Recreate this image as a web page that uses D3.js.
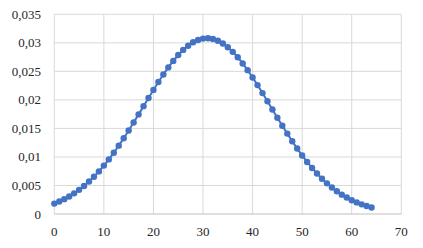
<!DOCTYPE html>
<html>
<head>
<meta charset="UTF-8">
<title>Chart</title>
<script src="https://cdn.jsdelivr.net/npm/d3@7/dist/d3.min.js"></script>
<style>
	body { margin: 0; background: #fff; }
	text { font-family: "Liberation Serif", "Times New Roman", serif; font-size: 13px; fill: #262626; }
</style>
</head>
<body>
<svg id="chart" width="423" height="248"></svg>
<script>
	// values, x = 0..64
	var xs = d3.range(0, 65);
	var ys = [0.00182, 0.00218, 0.00260, 0.00307, 0.00362, 0.00423, 0.00492, 0.00569, 0.00654, 0.00747,
		0.00848, 0.00957, 0.01074, 0.01198, 0.01328, 0.01463, 0.01603, 0.01746, 0.01890, 0.02034,
		0.02175, 0.02313, 0.02445, 0.02569, 0.02683, 0.02786, 0.02876, 0.02950, 0.03009, 0.03050,
		0.03074, 0.03080, 0.03067, 0.03036, 0.02987, 0.02922, 0.02842, 0.02747, 0.02639, 0.02521,
		0.02393, 0.02259, 0.02119, 0.01976, 0.01832, 0.01688, 0.01547, 0.01409, 0.01275, 0.01147,
		0.01026, 0.00912, 0.00807, 0.00709, 0.00619, 0.00537, 0.00464, 0.00398, 0.00339, 0.00288,
		0.00242, 0.00203, 0.00169, 0.00140, 0.00115];
	var xTicks = [0, 10, 20, 30, 40, 50, 60, 70];
	var yTicks = [0, 0.005, 0.01, 0.015, 0.02, 0.025, 0.03, 0.035];

	var svg = d3.select("#chart");
	var plotL = 54.3, plotR = 401.3, plotT = 14.3, plotB = 214;

	var x = d3.scaleLinear().domain([0, 70]).range([plotL, plotR]);
	var y = d3.scaleLinear().domain([0, 0.035]).range([plotB, plotT]);

	var fmt = function (d) { return String(+d.toFixed(3)).replace(".", ","); };

	// grid
	svg.append("g").selectAll("line").data(yTicks.slice(1)).enter().append("line")
		.attr("x1", plotL).attr("x2", plotR)
		.attr("y1", function (d) { return y(d); }).attr("y2", function (d) { return y(d); })
		.attr("stroke", "#d9d9d9").attr("stroke-width", 1);
	svg.append("g").selectAll("line").data(xTicks).enter().append("line")
		.attr("x1", function (d) { return x(d); }).attr("x2", function (d) { return x(d); })
		.attr("y1", plotT).attr("y2", plotB)
		.attr("stroke", "#d9d9d9").attr("stroke-width", 1);

	// bottom axis line
	svg.append("line").attr("x1", plotL).attr("x2", plotR).attr("y1", plotB).attr("y2", plotB)
		.attr("stroke", "#bfbfbf").attr("stroke-width", 1);

	// tick labels
	svg.append("g").selectAll("text").data(yTicks).enter().append("text")
		.attr("x", 41).attr("y", function (d) { return y(d); })
		.attr("dy", "0.35em").attr("text-anchor", "end")
		.text(fmt);
	svg.append("g").selectAll("text").data(xTicks).enter().append("text")
		.attr("x", function (d) { return x(d); }).attr("y", 231.5)
		.attr("dy", "0.35em").attr("text-anchor", "middle")
		.text(function (d) { return d; });

	var pts = xs.map(function (d, i) { return [d, ys[i]]; });

	svg.append("path").datum(pts)
		.attr("fill", "none").attr("stroke", "#4472c4").attr("stroke-width", 2)
		.attr("d", d3.line().x(function (d) { return x(d[0]); }).y(function (d) { return y(d[1]); }));

	svg.append("g").selectAll("circle").data(pts).enter().append("circle")
		.attr("cx", function (d) { return x(d[0]); })
		.attr("cy", function (d) { return y(d[1]); })
		.attr("r", 3.2)
		.attr("fill", "#4472c4");
</script>
</body>
</html>
